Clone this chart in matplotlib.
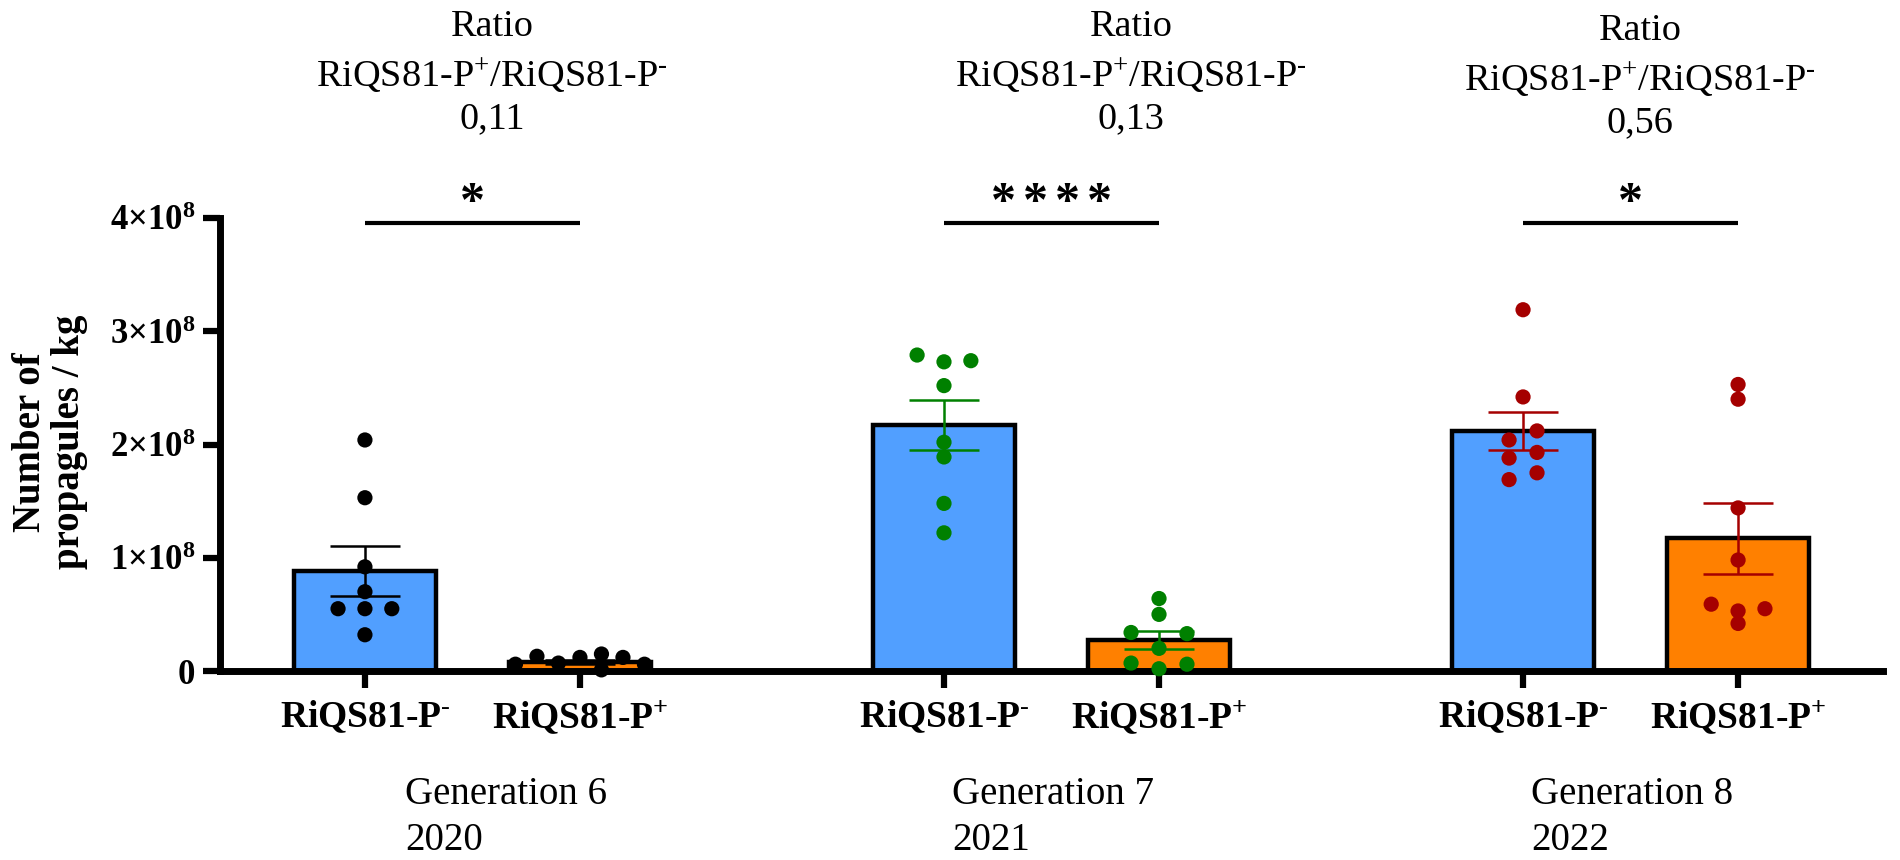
import numpy as np
import matplotlib
matplotlib.use("Agg")
import matplotlib.pyplot as plt

plt.rcParams['font.family'] = ['Liberation Serif', 'DejaVu Serif']
plt.rcParams['mathtext.fontset'] = 'custom'
plt.rcParams['mathtext.rm'] = 'Liberation Serif'
plt.rcParams['mathtext.bf'] = 'Liberation Serif:bold'
plt.rcParams['mathtext.it'] = 'Liberation Serif:italic'

# ---------------- data (units of 1e8 propagules / kg) ----------------
generations = ["Generation 6", "Generation 7", "Generation 8"]
years = ["2020", "2021", "2022"]
ratios = ["0,11", "0,13", "0,56"]
significance = ["*", "****", "*"]
strains = ["RiQS81-P$^{\\mathbf{\\text{-}}}$", "RiQS81-P$^{\\mathbf{+}}$"]

mean_minus = [0.88, 2.17, 2.12]
mean_plus = [0.08, 0.27, 1.17]
sem_minus = [0.22, 0.22, 0.17]
sem_plus = [0.018, 0.08, 0.31]

pts_g6_minus = [2.04, 1.53, 0.92, 0.70, 0.55, 0.55, 0.55, 0.32]
pts_g6_plus = [0.06, 0.13, 0.07, 0.12, 0.15, 0.01, 0.12, 0.06]
pts_g7_minus = [2.79, 2.73, 2.74, 2.52, 2.02, 1.89, 1.48, 1.22]
pts_g7_plus = [0.64, 0.50, 0.34, 0.33, 0.20, 0.07, 0.02, 0.06]
pts_g8_minus = [3.19, 2.42, 2.12, 2.04, 1.93, 1.88, 1.75, 1.69]
pts_g8_plus = [2.53, 2.40, 1.44, 0.98, 0.59, 0.55, 0.53, 0.42]

ytick_vals = [0, 1, 2, 3, 4]
ytick_labels = ["0", "1×10$^{\\mathbf{8}}$", "2×10$^{\\mathbf{8}}$",
                "3×10$^{\\mathbf{8}}$", "4×10$^{\\mathbf{8}}$"]

# ---------------- layout / style ----------------
slot_g6_minus = [0, 0, 0, 0, -1, 0, 1, 0]
slot_g6_plus = [-3, -2, -1, 0, 1, 1, 2, 3]
slot_g7_minus = [-1, 0, 1, 0, 0, 0, 0, 0]
slot_g7_plus = [0, 0, -1, 1, 0, -1, 0, 1]
slot_g8_minus = [0, 0, 1, -1, 1, -1, 1, -1]
slot_g8_plus = [0, 0, 0, 0, -1, 1, 0, 0]
slot_width = [[0.125, 0.10], [0.125, 0.13], [0.065, 0.125]]

group_gap = 2.693
bar_w = 0.66
star_step = 0.15
blue = "#519FFF"
orange = "#FF8000"
dot_colors = ["#000000", "#008000", "#A50000"]

W, H = 1900, 860
fig = plt.figure(figsize=(19, 8.6), dpi=100)
ax = fig.add_axes([220 / W, 1 - 671 / H, (1883 - 220) / W, (671 - 218) / H])

pts = [[pts_g6_minus, pts_g6_plus], [pts_g7_minus, pts_g7_plus], [pts_g8_minus, pts_g8_plus]]
slots = [[slot_g6_minus, slot_g6_plus], [slot_g7_minus, slot_g7_plus], [slot_g8_minus, slot_g8_plus]]
means = [[mean_minus[i], mean_plus[i]] for i in range(3)]
sems = [[sem_minus[i], sem_plus[i]] for i in range(3)]

xticks = []
xlabels = []
for g in range(3):
    for k in range(2):
        x = g * group_gap + k
        xticks.append(x)
        xlabels.append(strains[k])
        ax.bar(x, means[g][k], width=bar_w, color=[blue, orange][k],
               edgecolor="black", linewidth=3.2, zorder=2)
        xs = x + np.array(slots[g][k]) * slot_width[g][k]
        ax.scatter(xs, pts[g][k], s=120, color=dot_colors[g], zorder=4,
                   edgecolors='none', clip_on=False)
        ax.errorbar(x, means[g][k], yerr=sems[g][k], fmt='none',
                    ecolor=dot_colors[g], elinewidth=1.8, capsize=25,
                    capthick=1.8, zorder=5)
    # significance bar
    y_line = 3.96
    ax.plot([g * group_gap, g * group_gap + 1], [y_line, y_line], color="black",
            lw=3.0, clip_on=False, zorder=5, solid_capstyle='butt')
    n = len(significance[g])
    for j, ch in enumerate(significance[g]):
        sx = g * group_gap + 0.5 + (j - (n - 1) / 2) * star_step
        ax.text(sx, y_line + 0.06, ch, ha='center', va='baseline',
                fontsize=36, fontweight='bold', clip_on=False)

ax.set_xlim(-0.674, 2 * group_gap + 1 + 0.674)
ax.set_ylim(0, 4)
ax.set_yticks(ytick_vals)
ax.set_yticklabels(ytick_labels, fontsize=25, fontweight='bold')
ax.set_xticks(xticks)
ax.set_xticklabels(xlabels, fontsize=27, fontweight='bold')

for s in ['top', 'right']:
    ax.spines[s].set_visible(False)
for s in ['left', 'bottom']:
    ax.spines[s].set_linewidth(5)
    ax.spines[s].set_capstyle('projecting')
ax.tick_params(axis='both', length=12, width=4.5, direction='out', pad=6)
ax.tick_params(axis='x', pad=8)

fig.text(50 / W, 1 - 442 / H, "Number of\npropagules / kg", rotation=90,
         ha='center', va='center', fontsize=28, fontweight='bold',
         linespacing=1.1)

ratio_cx = [492, 1131, 1640]
ratio_dy = [0, 0, 4]
for g in range(3):
    cx = ratio_cx[g] / W
    dy = ratio_dy[g]
    fig.text(cx, 1 - (27 + dy) / H, "Ratio", ha='center', va='center', fontsize=27.5)
    fig.text(cx, 1 - (76 + dy) / H, "RiQS81-P$^{+}$/RiQS81-P$^{\\text{-}}$", ha='center',
             va='center', fontsize=27.5)
    fig.text(cx, 1 - (119 + dy) / H, ratios[g], ha='center', va='center', fontsize=27.5)

gen_x = [405, 952, 1531]
for g in range(3):
    fig.text(gen_x[g] / W, 1 - 794 / H, generations[g], ha='left', va='center', fontsize=28)
    fig.text(gen_x[g] / W, 1 - 840 / H, years[g], ha='left', va='center', fontsize=28)

fig.savefig("out.png", dpi=100)
